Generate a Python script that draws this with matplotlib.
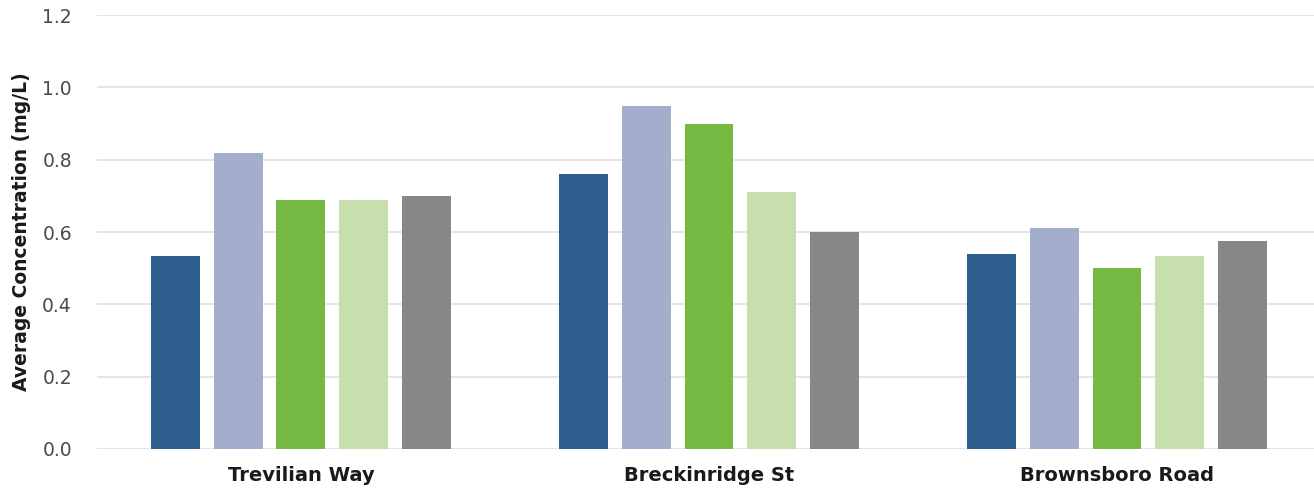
"""
Average concentration by site, grouped bar chart.
"""

import matplotlib.pyplot as plt
import numpy as np

sites = ["Trevilian Way", "Breckinridge St", "Brownsboro Road"]
series_names = ["Series 1", "Series 2", "Series 3", "Series 4", "Series 5"]
values = [
    [0.535, 0.76, 0.54],
    [0.82, 0.95, 0.61],
    [0.69, 0.90, 0.50],
    [0.69, 0.71, 0.535],
    [0.70, 0.60, 0.575],
]
colors = ["#2E5F8F", "#A2AECB", "#76BA43", "#C7DFAC", "#878787"]
y_ticks = [0.0, 0.2, 0.4, 0.6, 0.8, 1.0, 1.2]

plt.rcParams["font.family"] = ["DejaVu Sans"]

fig = plt.figure(figsize=(13.14, 4.88), dpi=100)
ax = fig.add_axes([0.0738, 0.080, 0.9262, 0.889])

x = np.arange(len(sites)) + 0.5
step = 0.154
width = 0.12
for i, (name, vals) in enumerate(zip(series_names, values)):
    offset = (i - 2) * step
    ax.bar(x + offset, vals, width=width, color=colors[i], label=name, zorder=3)

ax.set_xlim(0, 1217 / 408)
ax.set_ylim(0, 1.2)
ax.set_yticks(y_ticks)
ax.set_yticklabels([f"{t:.1f}" for t in y_ticks], fontsize=13.5, color="#4a4a4a")
ax.set_xticks(x)
ax.set_xticklabels(sites, fontsize=14, fontweight="bold", color="#1a1a1a")
ax.tick_params(axis="both", length=0)
ax.tick_params(axis="y", pad=18)
ax.tick_params(axis="x", pad=12)

ax.grid(axis="y", color="#E3E3E3", linewidth=1.3, zorder=0)
for spine in ax.spines.values():
    spine.set_visible(False)

ax.set_ylabel("Average Concentration (mg/L)", fontsize=13.5, fontweight="bold",
              color="#1a1a1a", labelpad=8)

fig.savefig("out.png", dpi=100)
